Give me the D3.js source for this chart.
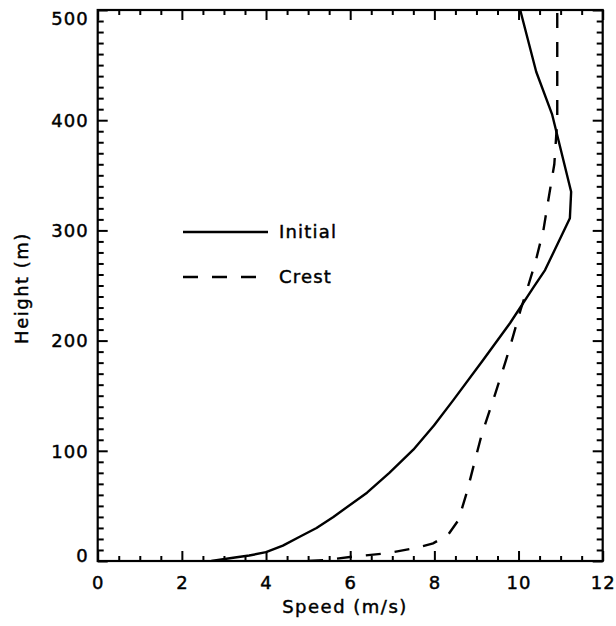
<!DOCTYPE html>
<html>
<head>
<meta charset="utf-8">
<script src="https://cdn.jsdelivr.net/npm/d3@7"></script>
<style>
  html, body { margin: 0; padding: 0; background: #fff; }
  svg { display: block; }
  text { font-family: "DejaVu Sans", sans-serif; fill: #000; stroke: #000; stroke-width: 0.45px; }
</style>
</head>
<body>
<svg id="chart" width="616" height="626"></svg>
<script>
// ---- data ----
const initialHeight = [0, 3, 5, 8, 14, 22, 30, 40, 62, 80, 101, 123, 146, 182, 216, 248, 264, 311, 335, 405, 444, 500];
const initialSpeed  = [2.7, 3.22, 3.6, 4.0, 4.4, 4.8, 5.2, 5.6, 6.4, 6.93, 7.5, 7.99, 8.45, 9.15, 9.8, 10.35, 10.63, 11.22, 11.25, 10.8, 10.42, 10.04];

const crestHeight = [0, 1, 4, 7, 12, 16, 24, 37, 62, 92, 114, 151, 182, 200, 228, 246, 271, 300, 328, 360, 400, 500];
const crestSpeed  = [5.0, 5.44, 6.07, 6.87, 7.58, 7.97, 8.33, 8.57, 8.77, 8.97, 9.12, 9.44, 9.7, 9.84, 10.05, 10.2, 10.4, 10.59, 10.71, 10.85, 10.92, 10.92];

const xMajorTicks = [0, 2, 4, 6, 8, 10, 12];
const yMajorTicks = [0, 100, 200, 300, 400, 500];
const seriesNames = ["Initial", "Crest"];
const xTitle = "Speed (m/s)";
const yTitle = "Height (m)";

(function () {
// ---- layout ----
const pL = 97.7, pR = 602.7, pT = 10, pB = 561;
const svg = d3.select("#chart");
const x = d3.scaleLinear().domain([0, 12]).range([pL, pR]);
const y = d3.scaleLinear().domain([0, 500]).range([pB, pT]);

const xMinor = d3.range(0, 12.001, 0.5).filter(v => !xMajorTicks.includes(v));
const yMinor = d3.range(0, 500.001, 10).filter(v => !yMajorTicks.includes(v));

function styleAxis(g) {
  g.select(".domain").remove();
  g.selectAll(".tick line").attr("stroke", "#000").attr("stroke-width", 2);
  g.selectAll(".tick text").style("font-size", "18px").style("letter-spacing", "1px")
    .attr("font-family", "DejaVu Sans");
}

// bottom axis (major with labels)
svg.append("g").attr("transform", `translate(0,${pB})`)
  .call(d3.axisBottom(x).tickValues(xMajorTicks).tickSize(-10).tickPadding(15).tickFormat(d3.format("d")))
  .call(styleAxis);
svg.append("g").attr("transform", `translate(0,${pB})`)
  .call(d3.axisBottom(x).tickValues(xMinor).tickSize(-5).tickFormat(""))
  .call(styleAxis);
// top axis
svg.append("g").attr("transform", `translate(0,${pT})`)
  .call(d3.axisTop(x).tickValues(xMajorTicks).tickSize(-10).tickFormat(""))
  .call(styleAxis);
svg.append("g").attr("transform", `translate(0,${pT})`)
  .call(d3.axisTop(x).tickValues(xMinor).tickSize(-5).tickFormat(""))
  .call(styleAxis);
// left axis
const yl = svg.append("g").attr("transform", `translate(${pL},0)`)
  .call(d3.axisLeft(y).tickValues(yMajorTicks).tickSize(-10).tickPadding(9).tickFormat(d3.format("d")))
  .call(styleAxis);
yl.selectAll(".tick text").attr("dy", d => d === 0 ? "0em" : (d === 500 ? "0.82em" : "0.35em"));
svg.append("g").attr("transform", `translate(${pL},0)`)
  .call(d3.axisLeft(y).tickValues(yMinor).tickSize(-6).tickFormat(""))
  .call(styleAxis);
// right axis
svg.append("g").attr("transform", `translate(${pR},0)`)
  .call(d3.axisRight(y).tickValues(yMajorTicks).tickSize(-10).tickFormat(""))
  .call(styleAxis);
svg.append("g").attr("transform", `translate(${pR},0)`)
  .call(d3.axisRight(y).tickValues(yMinor).tickSize(-6).tickFormat(""))
  .call(styleAxis);

// frame
svg.append("rect").attr("x", pL).attr("y", pT).attr("width", pR - pL).attr("height", pB - pT)
  .attr("fill", "none").attr("stroke", "#000").attr("stroke-width", 2.2);

// curves
const line = d3.line().x(d => x(d[0])).y(d => y(d[1]));
const initialData = initialSpeed.map((s, i) => [s, initialHeight[i]]);
const crestData = crestSpeed.map((s, i) => [s, crestHeight[i]]);

svg.append("clipPath").attr("id", "clip").append("rect")
  .attr("x", pL).attr("y", pT).attr("width", pR - pL).attr("height", pB - pT);

svg.append("path").datum(initialData).attr("d", line).attr("fill", "none")
  .attr("stroke", "#000").attr("stroke-width", 2.4).attr("stroke-linejoin", "round")
  .attr("clip-path", "url(#clip)");
svg.append("path").datum(crestData).attr("d", line).attr("fill", "none")
  .attr("stroke", "#000").attr("stroke-width", 2.4).attr("stroke-dasharray", "15,14")
  .attr("clip-path", "url(#clip)");

// legend
const legend = svg.append("g");
[[232, null], [277, "15,14"]].forEach((cfg, i) => {
  legend.append("line").attr("x1", 183).attr("x2", 268).attr("y1", cfg[0]).attr("y2", cfg[0])
    .attr("stroke", "#000").attr("stroke-width", 2.4)
    .attr("stroke-dasharray", cfg[1]);
  legend.append("text").attr("x", 279).attr("y", cfg[0]).attr("dy", "0.35em")
    .style("font-size", "18px").style("letter-spacing", "1.2px").text(seriesNames[i]);
});

// axis titles
svg.append("text").attr("x", 345).attr("y", 613).attr("text-anchor", "middle")
  .style("font-size", "18px").style("letter-spacing", "1.5px").text(xTitle);
svg.append("text").attr("transform", "translate(28,288) rotate(-90)").attr("text-anchor", "middle")
  .style("font-size", "18px").style("letter-spacing", "1.5px").text(yTitle);
})();
</script>
</body>
</html>
